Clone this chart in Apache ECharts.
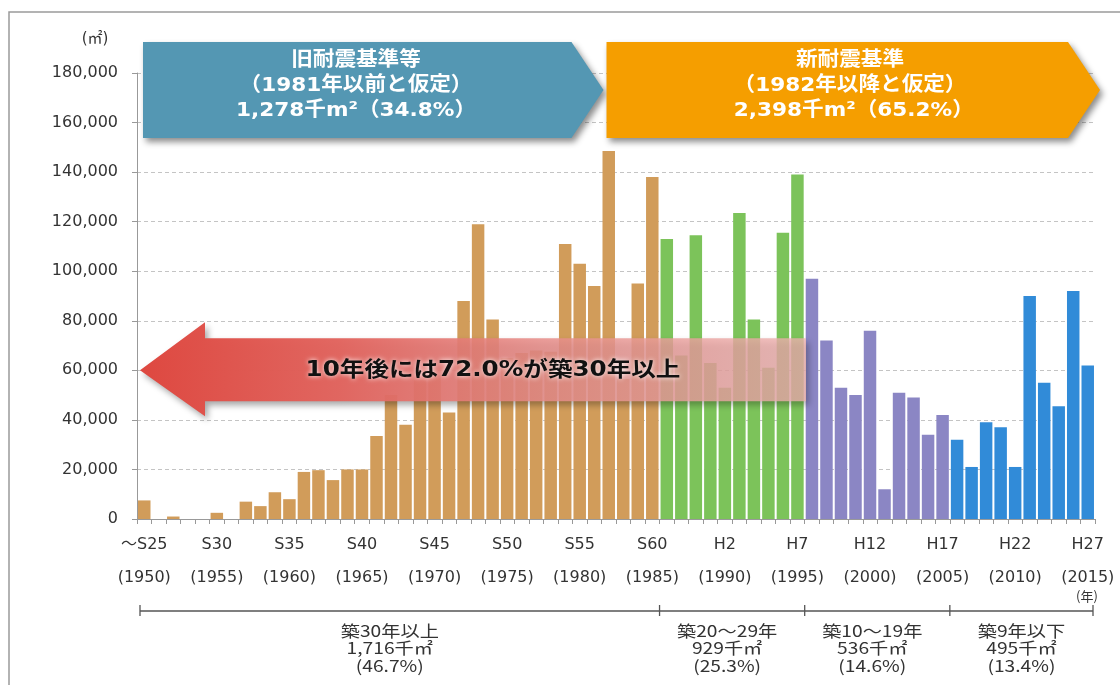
<!DOCTYPE html>
<html>
<head>
<meta charset="utf-8">
<script src="https://cdn.jsdelivr.net/npm/echarts@6/dist/echarts.min.js"></script>
<style>
  html, body { margin: 0; padding: 0; background: #fff; }
  #chart { width: 1120px; height: 685px; }
</style>
</head>
<body>
<div id="chart"></div>
<script>
// 建築年（1950〜2015）
const years = [
  '1950','1951','1952','1953','1954','1955','1956','1957','1958','1959',
  '1960','1961','1962','1963','1964','1965','1966','1967','1968','1969',
  '1970','1971','1972','1973','1974','1975','1976','1977','1978','1979',
  '1980','1981','1982','1983','1984','1985','1986','1987','1988','1989',
  '1990','1991','1992','1993','1994','1995','1996','1997','1998','1999',
  '2000','2001','2002','2003','2004','2005','2006','2007','2008','2009',
  '2010','2011','2012','2013','2014','2015'
];

// 延床面積（㎡）
const floorArea = [
  7500, 0, 1000, 0, 0, 2500, 0, 7000, 5200, 10800,
  8000, 19000, 19700, 15700, 20000, 20000, 33500, 50000, 38000, 56000,
  58000, 43000, 88000, 119000, 80500, 65000, 67000, 68000, 67500, 111000,
  103000, 94000, 148500, 56500, 95000, 138000, 113000, 66000, 114500, 63000,
  53000, 123500, 80500, 61000, 115500, 139000, 97000, 72000, 53000, 50000,
  76000, 12000, 51000, 49000, 34000, 42000, 32000, 21000, 39000, 37000,
  21000, 90000, 55000, 45500, 92000, 62000
];

// 目盛ラベル（5年ごと）
const labelYears = ['1950','1955','1960','1965','1970','1975','1980','1985','1990','1995','2000','2005','2010','2015'];
const eraLabels = ['～S25','S30','S35','S40','S45','S50','S55','S60','H2','H7','H12','H17','H22','H27'];

// 築年数区分
const groupFirst = ['1950','1986','1996','2006'];
const groupLast = ['1985','1995','2005','2015'];
const groupColors = ['#d19c5a','#7cc35a','#8b86c4','#318bd8'];
const groupTexts = [
  '築30年以上\n1,716千㎡\n(46.7%)',
  '築20～29年\n929千㎡\n(25.3%)',
  '築10～19年\n536千㎡\n(14.6%)',
  '築9年以下\n495千㎡\n(13.4%)'
];

const bannerTexts = [
  '旧耐震基準等\n（1981年以前と仮定）\n1,278千m²（34.8%）',
  '新耐震基準\n（1982年以降と仮定）\n 2,398千m²（65.2%）'
];
const arrowText = '10年後には72.0%が築30年以上';

const FONT = 'Verdana, "DejaVu Sans", "Noto Sans CJK JP", sans-serif';
const JFONT = '"Noto Sans CJK JP", sans-serif';

function groupOf(year) {
  for (let g = 0; g < groupFirst.length; g++) {
    if (year >= groupFirst[g] && year <= groupLast[g]) return g;
  }
  return 0;
}

const chart = echarts.init(document.getElementById('chart'));

const option = {
  animation: false,
  backgroundColor: '#fff',
  grid: { left: 137, right: 25, top: 73, bottom: 166 },
  xAxis: {
    type: 'category',
    data: years,
    axisLine: { lineStyle: { color: '#999' } },
    axisTick: { show: true, interval: 0, length: 5, lineStyle: { color: '#999' } },
    axisLabel: {
      interval: function (index, value) { return labelYears.indexOf(value) >= 0; },
      formatter: function (value) {
        const i = labelYears.indexOf(value);
        return eraLabels[i] + '\n(' + value + ')';
      },
      fontFamily: FONT,
      fontSize: 16,
      lineHeight: 33,
      margin: 9,
      color: '#333'
    }
  },
  yAxis: {
    type: 'value',
    min: 0,
    max: 180000,
    interval: 20000,
    axisLine: { show: true, lineStyle: { color: '#999' } },
    axisTick: { show: true, length: 5, lineStyle: { color: '#999' } },
    axisLabel: {
      formatter: function (v) { return v.toLocaleString('en-US'); },
      fontFamily: FONT,
      fontSize: 16,
      margin: 19,
      color: '#333'
    },
    splitLine: { lineStyle: { color: '#c4c4c4', type: [4, 3] } }
  },
  series: [{
    type: 'bar',
    barCategoryGap: '14%',
    data: floorArea.map(function (v, i) {
      return { value: v, itemStyle: { color: groupColors[groupOf(years[i])] } };
    })
  }]
};

chart.setOption(option);

// 注記（区分のかっこ、バナー、矢印）
const band = chart.convertToPixel({ xAxisIndex: 0 }, 1) - chart.convertToPixel({ xAxisIndex: 0 }, 0);
function leftEdge(year) { return chart.convertToPixel({ xAxisIndex: 0 }, year) - band / 2; }
function rightEdge(year) { return chart.convertToPixel({ xAxisIndex: 0 }, year) + band / 2; }
const y60k = chart.convertToPixel({ yAxisIndex: 0 }, 60000);

const graphics = [];

// 外枠
graphics.push({
  type: 'rect', z: -10, silent: true,
  shape: { x: 9, y: 12, width: 1200, height: 800 },
  style: { fill: 'none', stroke: '#9a9a9a', lineWidth: 1.5 }
});

// 単位
graphics.push({
  type: 'text', x: 95, y: 39, z: 10,
  style: { text: '(㎡)', font: '15px ' + FONT, fill: '#333', textAlign: 'center', verticalAlign: 'middle' }
});
graphics.push({
  type: 'text', x: 1087, y: 596, z: 10,
  style: { text: '(年)', font: '13px ' + JFONT, fill: '#333', textAlign: 'center', verticalAlign: 'middle' }
});

// 区分のかっこ
const bracketY = 611;
const bx = [leftEdge(groupFirst[0]) + 3];
groupLast.forEach(function (y) { bx.push(rightEdge(y)); });
bx[bx.length - 1] -= 2;
graphics.push({
  type: 'line', z: 10,
  shape: { x1: bx[0], y1: bracketY, x2: bx[bx.length - 1], y2: bracketY },
  style: { stroke: '#555', lineWidth: 1.3 }
});
bx.forEach(function (x) {
  graphics.push({
    type: 'line', z: 10,
    shape: { x1: x, y1: bracketY - 6, x2: x, y2: bracketY + 5 },
    style: { stroke: '#555', lineWidth: 1.3 }
  });
});
const textShift = [-10, -5, -5, 0];
groupTexts.forEach(function (t, g) {
  graphics.push({
    type: 'text', z: 10,
    x: (bx[g] + bx[g + 1]) / 2 + textShift[g], y: 648,
    originX: 0, originY: 0,
    scaleX: 1.2,
    style: {
      text: t, font: '16px ' + JFONT, lineHeight: 17.5, fill: '#333',
      textAlign: 'center', verticalAlign: 'middle'
    }
  });
});

// バナー
const bannerTop = 42, bannerBottom = 138, bannerMid = 90;
const blueL = leftEdge(groupFirst[0]) + 6, blueTip = rightEdge('1981') + 2;
const orangeL = leftEdge('1982') + 5, orangeTip = 1100;
const banners = [
  { l: blueL, tip: blueTip, color: '#5497b3', cx: 356 },
  { l: orangeL, tip: orangeTip, color: '#f59e00', cx: 850 }
];
banners.forEach(function (b, i) {
  graphics.push({
    type: 'polygon', z: 20,
    shape: { points: [[b.l, bannerTop], [b.tip - 32, bannerTop], [b.tip, bannerMid], [b.tip - 32, bannerBottom], [b.l, bannerBottom]] },
    style: { fill: b.color, shadowBlur: 6, shadowOffsetX: 3, shadowOffsetY: 4, shadowColor: 'rgba(0,0,0,0.45)' }
  });
  graphics.push({
    type: 'text', z: 21,
    x: b.cx, y: 86, originX: 0, originY: 0, scaleX: 1.08,
    style: {
      text: bannerTexts[i], font: 'bold 20px ' + FONT, lineHeight: 25, fill: '#fff',
      textAlign: 'center', verticalAlign: 'middle'
    }
  });
});

// 左向き矢印
const ax0 = leftEdge(groupFirst[0]) + 3;
const headX = ax0 + 65, bodyR = 806;
graphics.push({
  type: 'polygon', z: 30,
  shape: {
    points: [
      [ax0, y60k], [headX, y60k - 48], [headX, y60k - 32], [bodyR, y60k - 32],
      [bodyR, y60k + 31], [headX, y60k + 31], [headX, y60k + 46]
    ]
  },
  style: {
    fill: {
      type: 'linear', x: 0, y: 0, x2: 1, y2: 0,
      colorStops: [
        { offset: 0, color: 'rgba(222,72,64,1)' },
        { offset: 0.3, color: 'rgba(226,100,94,0.97)' },
        { offset: 0.6, color: 'rgba(232,140,136,0.85)' },
        { offset: 1, color: 'rgba(238,178,176,0.78)' }
      ]
    },
    shadowBlur: 6, shadowOffsetX: 3, shadowOffsetY: 4, shadowColor: 'rgba(0,0,0,0.35)'
  }
});
graphics.push({
  type: 'text', z: 31,
  x: 493, y: y60k, originX: 0, originY: 0, scaleX: 1.17,
  style: {
    text: arrowText, font: 'bold 21px ' + FONT, fill: '#111',
    textAlign: 'center', verticalAlign: 'middle',
    textShadowColor: '#fff', textShadowBlur: 5
  }
});

chart.setOption({ graphic: graphics });
</script>
</body>
</html>
